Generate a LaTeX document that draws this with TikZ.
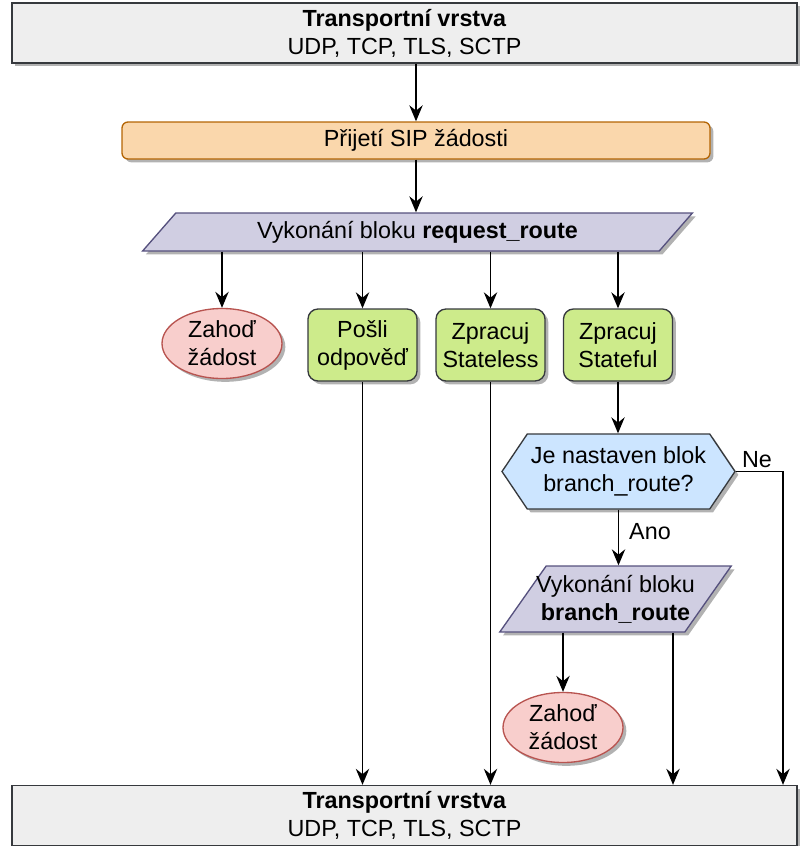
\documentclass[tikz,border=0pt]{standalone}
\usepackage{fontspec}
\setmainfont{Liberation Sans}
\usetikzlibrary{shapes.geometric,shapes.symbols,shadows,arrows.meta}
\definecolor{sedy}{HTML}{EEEEEE}
\definecolor{tmavy}{HTML}{36393D}
\definecolor{oranz}{HTML}{FAD7AC}
\definecolor{oranzo}{HTML}{B46504}
\definecolor{fial}{HTML}{D0CEE2}
\definecolor{fialo}{HTML}{56517E}
\definecolor{cerv}{HTML}{F8CECC}
\definecolor{cervo}{HTML}{B85450}
\definecolor{zel}{HTML}{CDEB8B}
\definecolor{modr}{HTML}{CCE5FF}
\begin{document}
\begin{tikzpicture}[x=0.75pt,y=-0.75pt,
  every node/.style={font=\fontsize{17.5}{21}\selectfont,align=center,inner sep=0pt,line width=1pt},
  stin/.style={drop shadow={shadow xshift=2.5pt,shadow yshift=-2.5pt,opacity=0.3,fill=black}},
  vrstva/.style={draw=tmavy,fill=sedy,minimum width=588.75pt,minimum height=45pt,stin},
  zahod/.style={ellipse,draw=cervo,fill=cerv,minimum width=90pt,minimum height=52.5pt,stin},
  krok/.style={rectangle,rounded corners=7.5pt,draw=tmavy,fill=zel,minimum width=81.75pt,minimum height=54pt,stin},
  blok/.style={trapezium,trapezium stretches=true,draw=fialo,fill=fial,stin},
  sip/.style={-{Stealth[length=12pt,width=10pt,inset=4pt]},line width=1.2pt}]
\useasboundingbox (0,0) rectangle (810,846);
\node[vrstva] (nahore) at (404.5,33) {\textbf{Transportní vrstva}\\UDP, TCP, TLS, SCTP};
\node[rectangle,rounded corners=4.5pt,draw=oranzo,fill=oranz,minimum width=441pt,minimum height=27.75pt,stin] (prijeti) at (416,140.5) {Přijetí SIP žádosti};
\node[blok,trapezium left angle=45,trapezium right angle=135,minimum width=413.25pt,minimum height=28.5pt] (req) at (417.5,232) {Vykonání bloku \textbf{request\_route}};
\node[zahod] (zahod1) at (222,343.5) {Zahoď\\žádost};
\node[krok] (posli) at (362.5,345) {Pošli\\odpověď};
\node[krok] (stless) at (490.5,345) {Zpracuj\\Stateless};
\node[krok] (stful) at (618,345) {Zpracuj\\Stateful};
\node[signal,signal to=west and east,signal pointer angle=112,draw=tmavy,fill=modr,minimum width=174.75pt,minimum height=56.25pt,stin] (je) at (618.5,471.5) {Je nastaven blok\\branch\_route?};
\node[blok,trapezium left angle=46,trapezium right angle=134,inner xsep=-7.5pt,minimum width=173.25pt,minimum height=49.5pt] (branch) at (615.5,599) {Vykonání bloku\\\textbf{branch\_route}};
\node[zahod] (zahod2) at (563,727.5) {Zahoď\\žádost};
\node[vrstva] (dole) at (404.5,815.5) {\textbf{Transportní vrstva}\\UDP, TCP, TLS, SCTP};
\node (ne) at (757,460) {Ne};
\node (ano) at (650,532) {Ano};
\coordinate (roh) at (783,471.5);
\coordinate (vpravo) at (673,632);
\draw[sip] (prijeti.north |- nahore.south) -- (prijeti.north);
\draw[sip] (prijeti.south) -- (prijeti.south |- req.north);
\foreach \n in {zahod1,posli,stless,stful} \draw[sip] (\n.north |- req.south) -- (\n.north);
\foreach \n in {posli,stless} \draw[sip] (\n.south) -- (\n.south |- dole.north);
\draw[sip] (stful.south) -- (stful.south |- je.north);
\draw[sip] (je.south) -- (je.south |- branch.north);
\draw[sip] (je.east) -- (roh) -- (roh |- dole.north);
\draw[sip] (zahod2.north |- branch.south) -- (zahod2.north);
\draw[sip] (vpravo |- branch.south) -- (vpravo |- dole.north);
\end{tikzpicture}
\end{document}
